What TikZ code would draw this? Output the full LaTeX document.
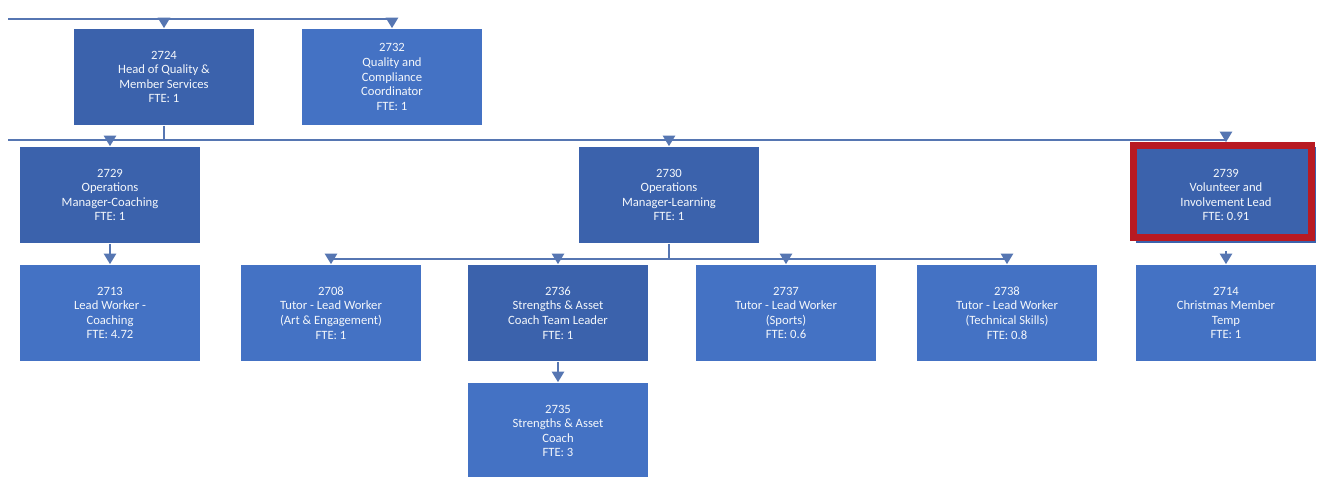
\documentclass[tikz,border=0pt]{standalone}
\usepackage{fontspec}
\setmainfont{Carlito}
\usetikzlibrary{arrows.meta}
\definecolor{darkbox}{RGB}{59,98,172}
\definecolor{lightbox}{RGB}{68,114,196}
\definecolor{linkline}{RGB}{86,118,178}
\definecolor{flagred}{RGB}{184,26,34}

\begin{document}
\begin{tikzpicture}[x=0.02cm, y=-0.02cm,
    post/.style={fill=lightbox, text=white!94!lightbox, minimum width=3.6cm,
      minimum height=1.94cm, inner sep=0pt, align=center,
      font=\fontsize{7.2}{8.3}\selectfont},
    lead/.style={post, fill=darkbox},
    link/.style={linkline, line width=1pt},
    down/.style={link, -{Triangle[width=7pt,length=6pt]}}]
  \useasboundingbox (0,0) rectangle (1320,477);
  % top row
  \node[lead] (h2724) at (164,77) {2724\\Head of Quality \&\\Member Services\\FTE: 1};
  \node[post] (q2732) at (392,77) {2732\\Quality and\\Compliance\\Coordinator\\FTE: 1};
  % managers
  \node[lead] (m2729) at (110,195) {2729\\Operations\\Manager-Coaching\\FTE: 1};
  \node[lead] (m2730) at (669,195) {2730\\Operations\\Manager-Learning\\FTE: 1};
  \node[lead] (v2739) at (1226,195) {2739\\Volunteer and\\Involvement Lead\\FTE: 0.91};
  \draw[flagred, line width=0.14cm]
    ([shift={(-0.05cm,0.01cm)}]v2739.north west) rectangle
    ([shift={(-0.09cm,0.13cm)}]v2739.south east);
  % workers
  \node[post] (w2713) at (110,313) {2713\\Lead Worker -\\Coaching\\FTE: 4.72};
  \node[post] (t2708) at (331,313) {2708\\Tutor - Lead Worker\\(Art \& Engagement)\\FTE: 1};
  \node[lead] (s2736) at (558,313) {2736\\Strengths \& Asset\\Coach Team Leader\\FTE: 1};
  \node[post] (t2737) at (786,313) {2737\\Tutor - Lead Worker\\(Sports)\\FTE: 0.6};
  \node[post] (t2738) at (1007,313) {2738\\Tutor - Lead Worker\\(Technical Skills)\\FTE: 0.8};
  \node[post] (c2714) at (1226,313) {2714\\Christmas Member\\Temp\\FTE: 1};
  \node[post] (s2735) at (558,431) {2735\\Strengths \& Asset\\Coach\\FTE: 3};
  % connectors
  \coordinate (busA) at (8,19);
  \coordinate (busB) at (8,140);
  \draw[down] (busA) -| (q2732.north);
  \draw[down] (busA -| h2724.north) -- (h2724.north);
  \draw[down] (busB) -| ([yshift=0.08cm]v2739.north);
  \draw[link] (h2724.south) -- (busB -| h2724.south);
  \draw[down] (busB -| m2729.north) -- (m2729.north);
  \draw[down] (busB -| m2730.north) -- (m2730.north);
  \coordinate (busC) at (331,259);
  \draw[link] (m2730.south) -- (busC -| m2730.south);
  \draw[down] (busC) -- (t2708.north);
  \draw[down] (busC) -| (t2738.north);
  \draw[down] (busC -| s2736.north) -- (s2736.north);
  \draw[down] (busC -| t2737.north) -- (t2737.north);
  \draw[down] (m2729) -- (w2713);
  \draw[down] (s2736) -- (s2735);
  \draw[down] ([yshift=-0.14cm]v2739.south) -- (c2714.north);
\end{tikzpicture}
\end{document}
